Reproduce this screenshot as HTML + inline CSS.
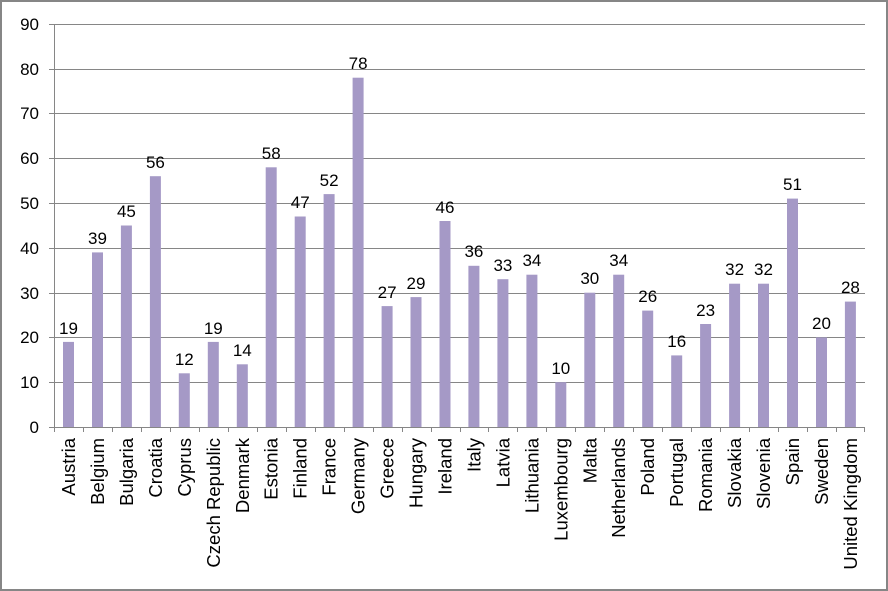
<!DOCTYPE html>
<html><head><meta charset="utf-8"><style>
html,body{margin:0;padding:0;background:#fff}
svg{display:block;font-family:"Liberation Sans",sans-serif}
</style></head><body>
<svg width="888" height="591" viewBox="0 0 888 591" xmlns="http://www.w3.org/2000/svg">
<rect x="1" y="1" width="886" height="589" fill="#fff" stroke="#868686" stroke-width="2"/>
<g stroke="#868686" stroke-width="1">
<line x1="49" y1="24.5" x2="865" y2="24.5"/>
<line x1="49" y1="69.5" x2="865" y2="69.5"/>
<line x1="49" y1="113.5" x2="865" y2="113.5"/>
<line x1="49" y1="158.5" x2="865" y2="158.5"/>
<line x1="49" y1="203.5" x2="865" y2="203.5"/>
<line x1="49" y1="248.5" x2="865" y2="248.5"/>
<line x1="49" y1="293.5" x2="865" y2="293.5"/>
<line x1="49" y1="337.5" x2="865" y2="337.5"/>
<line x1="49" y1="382.5" x2="865" y2="382.5"/>
<line x1="49" y1="427.5" x2="865" y2="427.5"/>
<line x1="54.5" y1="24" x2="54.5" y2="427"/>
</g>
<g font-size="17" fill="#000" text-anchor="end">
<text x="39" y="30">90</text><text x="39" y="75">80</text><text x="39" y="119">70</text>
<text x="39" y="164">60</text><text x="39" y="209">50</text><text x="39" y="254">40</text>
<text x="39" y="299">30</text><text x="39" y="343">20</text><text x="39" y="388">10</text>
<text x="39" y="433">0</text>
</g>
<g stroke="#868686">
<line x1="83.5" y1="427" x2="83.5" y2="432"/><line x1="112.5" y1="427" x2="112.5" y2="432"/>
<line x1="141.5" y1="427" x2="141.5" y2="432"/><line x1="170.5" y1="427" x2="170.5" y2="432"/>
<line x1="199.5" y1="427" x2="199.5" y2="432"/><line x1="228.5" y1="427" x2="228.5" y2="432"/>
<line x1="257.5" y1="427" x2="257.5" y2="432"/><line x1="286.5" y1="427" x2="286.5" y2="432"/>
<line x1="315.5" y1="427" x2="315.5" y2="432"/><line x1="344.5" y1="427" x2="344.5" y2="432"/>
<line x1="373.5" y1="427" x2="373.5" y2="432"/><line x1="402.5" y1="427" x2="402.5" y2="432"/>
<line x1="431.5" y1="427" x2="431.5" y2="432"/><line x1="460.5" y1="427" x2="460.5" y2="432"/>
<line x1="488.5" y1="427" x2="488.5" y2="432"/><line x1="517.5" y1="427" x2="517.5" y2="432"/>
<line x1="546.5" y1="427" x2="546.5" y2="432"/><line x1="575.5" y1="427" x2="575.5" y2="432"/>
<line x1="604.5" y1="427" x2="604.5" y2="432"/><line x1="633.5" y1="427" x2="633.5" y2="432"/>
<line x1="662.5" y1="427" x2="662.5" y2="432"/><line x1="691.5" y1="427" x2="691.5" y2="432"/>
<line x1="720.5" y1="427" x2="720.5" y2="432"/><line x1="749.5" y1="427" x2="749.5" y2="432"/>
<line x1="778.5" y1="427" x2="778.5" y2="432"/><line x1="807.5" y1="427" x2="807.5" y2="432"/>
<line x1="836.5" y1="427" x2="836.5" y2="432"/><line x1="864.5" y1="427" x2="864.5" y2="432"/>
<line x1="54.5" y1="427" x2="54.5" y2="432"/>
</g>
<style>.c{font-size:18.5px}</style>
<g font-size="17" fill="#000">
<g transform="translate(68.5,427)"><rect x="-5.5" y="-85.1" width="11" height="85.1" fill="#A599C6"/><text x="0" y="-93" text-anchor="middle">19</text><text class="c" transform="translate(6.5,11) rotate(-90)" text-anchor="end">Austria</text></g>
<g transform="translate(97.5,427)"><rect x="-5.5" y="-174.6" width="11" height="174.6" fill="#A599C6"/><text x="0" y="-183" text-anchor="middle">39</text><text class="c" transform="translate(6.5,11) rotate(-90)" text-anchor="end">Belgium</text></g>
<g transform="translate(126.4,427)"><rect x="-5.5" y="-201.5" width="11" height="201.5" fill="#A599C6"/><text x="0" y="-210" text-anchor="middle">45</text><text class="c" transform="translate(6.5,11) rotate(-90)" text-anchor="end">Bulgaria</text></g>
<g transform="translate(155.4,427)"><rect x="-5.5" y="-250.8" width="11" height="250.8" fill="#A599C6"/><text x="0" y="-259" text-anchor="middle">56</text><text class="c" transform="translate(6.5,11) rotate(-90)" text-anchor="end">Croatia</text></g>
<g transform="translate(184.3,427)"><rect x="-5.5" y="-53.7" width="11" height="53.7" fill="#A599C6"/><text x="0" y="-62" text-anchor="middle">12</text><text class="c" transform="translate(6.5,11) rotate(-90)" text-anchor="end">Cyprus</text></g>
<g transform="translate(213.3,427)"><rect x="-5.5" y="-85.1" width="11" height="85.1" fill="#A599C6"/><text x="0" y="-93" text-anchor="middle">19</text><text class="c" transform="translate(6.5,11) rotate(-90)" text-anchor="end">Czech Republic</text></g>
<g transform="translate(242.3,427)"><rect x="-5.5" y="-62.7" width="11" height="62.7" fill="#A599C6"/><text x="0" y="-71" text-anchor="middle">14</text><text class="c" transform="translate(6.5,11) rotate(-90)" text-anchor="end">Denmark</text></g>
<g transform="translate(271.2,427)"><rect x="-5.5" y="-259.7" width="11" height="259.7" fill="#A599C6"/><text x="0" y="-268" text-anchor="middle">58</text><text class="c" transform="translate(6.5,11) rotate(-90)" text-anchor="end">Estonia</text></g>
<g transform="translate(300.2,427)"><rect x="-5.5" y="-210.5" width="11" height="210.5" fill="#A599C6"/><text x="0" y="-219" text-anchor="middle">47</text><text class="c" transform="translate(6.5,11) rotate(-90)" text-anchor="end">Finland</text></g>
<g transform="translate(329.1,427)"><rect x="-5.5" y="-232.9" width="11" height="232.9" fill="#A599C6"/><text x="0" y="-241" text-anchor="middle">52</text><text class="c" transform="translate(6.5,11) rotate(-90)" text-anchor="end">France</text></g>
<g transform="translate(358.1,427)"><rect x="-5.5" y="-349.3" width="11" height="349.3" fill="#A599C6"/><text x="0" y="-358" text-anchor="middle">78</text><text class="c" transform="translate(6.5,11) rotate(-90)" text-anchor="end">Germany</text></g>
<g transform="translate(387.1,427)"><rect x="-5.5" y="-120.9" width="11" height="120.9" fill="#A599C6"/><text x="0" y="-129" text-anchor="middle">27</text><text class="c" transform="translate(6.5,11) rotate(-90)" text-anchor="end">Greece</text></g>
<g transform="translate(416,427)"><rect x="-5.5" y="-129.9" width="11" height="129.9" fill="#A599C6"/><text x="0" y="-138" text-anchor="middle">29</text><text class="c" transform="translate(6.5,11) rotate(-90)" text-anchor="end">Hungary</text></g>
<g transform="translate(445,427)"><rect x="-5.5" y="-206" width="11" height="206" fill="#A599C6"/><text x="0" y="-214" text-anchor="middle">46</text><text class="c" transform="translate(6.5,11) rotate(-90)" text-anchor="end">Ireland</text></g>
<g transform="translate(473.9,427)"><rect x="-5.5" y="-161.2" width="11" height="161.2" fill="#A599C6"/><text x="0" y="-170" text-anchor="middle">36</text><text class="c" transform="translate(6.5,11) rotate(-90)" text-anchor="end">Italy</text></g>
<g transform="translate(502.9,427)"><rect x="-5.5" y="-147.8" width="11" height="147.8" fill="#A599C6"/><text x="0" y="-156" text-anchor="middle">33</text><text class="c" transform="translate(6.5,11) rotate(-90)" text-anchor="end">Latvia</text></g>
<g transform="translate(531.9,427)"><rect x="-5.5" y="-152.3" width="11" height="152.3" fill="#A599C6"/><text x="0" y="-161" text-anchor="middle">34</text><text class="c" transform="translate(6.5,11) rotate(-90)" text-anchor="end">Lithuania</text></g>
<g transform="translate(560.8,427)"><rect x="-5.5" y="-44.8" width="11" height="44.8" fill="#A599C6"/><text x="0" y="-53" text-anchor="middle">10</text><text class="c" transform="translate(6.5,11) rotate(-90)" text-anchor="end">Luxembourg</text></g>
<g transform="translate(589.8,427)"><rect x="-5.5" y="-134.3" width="11" height="134.3" fill="#A599C6"/><text x="0" y="-143" text-anchor="middle">30</text><text class="c" transform="translate(6.5,11) rotate(-90)" text-anchor="end">Malta</text></g>
<g transform="translate(618.7,427)"><rect x="-5.5" y="-152.3" width="11" height="152.3" fill="#A599C6"/><text x="0" y="-161" text-anchor="middle">34</text><text class="c" transform="translate(6.5,11) rotate(-90)" text-anchor="end">Netherlands</text></g>
<g transform="translate(647.7,427)"><rect x="-5.5" y="-116.4" width="11" height="116.4" fill="#A599C6"/><text x="0" y="-125" text-anchor="middle">26</text><text class="c" transform="translate(6.5,11) rotate(-90)" text-anchor="end">Poland</text></g>
<g transform="translate(676.7,427)"><rect x="-5.5" y="-71.6" width="11" height="71.6" fill="#A599C6"/><text x="0" y="-80" text-anchor="middle">16</text><text class="c" transform="translate(6.5,11) rotate(-90)" text-anchor="end">Portugal</text></g>
<g transform="translate(705.6,427)"><rect x="-5.5" y="-103" width="11" height="103" fill="#A599C6"/><text x="0" y="-111" text-anchor="middle">23</text><text class="c" transform="translate(6.5,11) rotate(-90)" text-anchor="end">Romania</text></g>
<g transform="translate(734.6,427)"><rect x="-5.5" y="-143.3" width="11" height="143.3" fill="#A599C6"/><text x="0" y="-152" text-anchor="middle">32</text><text class="c" transform="translate(6.5,11) rotate(-90)" text-anchor="end">Slovakia</text></g>
<g transform="translate(763.5,427)"><rect x="-5.5" y="-143.3" width="11" height="143.3" fill="#A599C6"/><text x="0" y="-152" text-anchor="middle">32</text><text class="c" transform="translate(6.5,11) rotate(-90)" text-anchor="end">Slovenia</text></g>
<g transform="translate(792.5,427)"><rect x="-5.5" y="-228.4" width="11" height="228.4" fill="#A599C6"/><text x="0" y="-237" text-anchor="middle">51</text><text class="c" transform="translate(6.5,11) rotate(-90)" text-anchor="end">Spain</text></g>
<g transform="translate(821.5,427)"><rect x="-5.5" y="-89.6" width="11" height="89.6" fill="#A599C6"/><text x="0" y="-98" text-anchor="middle">20</text><text class="c" transform="translate(6.5,11) rotate(-90)" text-anchor="end">Sweden</text></g>
<g transform="translate(850.4,427)"><rect x="-5.5" y="-125.4" width="11" height="125.4" fill="#A599C6"/><text x="0" y="-134" text-anchor="middle">28</text><text class="c" transform="translate(6.5,11) rotate(-90)" text-anchor="end">United Kingdom</text></g>
</g>
</svg>
</body></html>
